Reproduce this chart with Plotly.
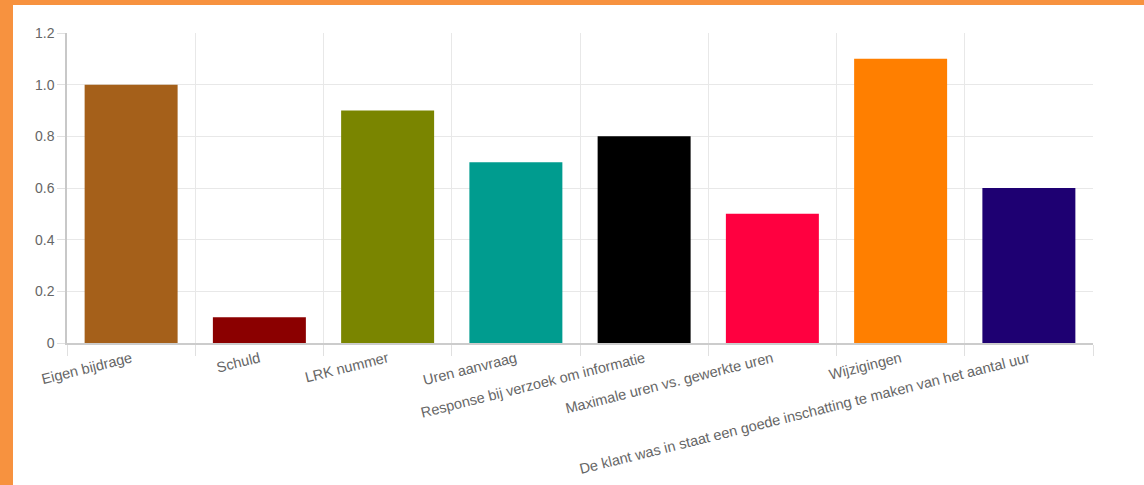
import plotly.graph_objects as go

categories = [
    "Eigen bijdrage",
    "Schuld",
    "LRK nummer",
    "Uren aanvraag",
    "Response bij verzoek om informatie",
    "Maximale uren vs. gewerkte uren",
    "Wijzigingen",
    "De klant was in staat een goede inschatting te maken van het aantal uur",
]
values = [1.0, 0.1, 0.9, 0.7, 0.8, 0.5, 1.1, 0.6]
bar_colors = ["#A5601A", "#8B0000", "#7A8500", "#009C8F", "#000000", "#FF0040", "#FF7F00", "#1E0072"]
y_tickvals = [0, 0.2, 0.4, 0.6, 0.8, 1.0, 1.2]
y_ticktext = ["0", "0.2", "0.4", "0.6", "0.8", "1.0", "1.2"]

W, H = 1144, 485
L, R, T, B = 67, 51, 33, 142
pw, ph = W - L - R, H - T - B

def px_x(p):
    return (p - L) / pw

def px_y(p):
    return (H - B - p) / ph

fig = go.Figure(go.Bar(
    x=categories, y=values, marker=dict(color=bar_colors, line=dict(width=0)),
    hoverinfo="x+y",
))

orange = "#F7923F"
fig.add_shape(type="rect", xref="paper", yref="paper",
              x0=px_x(0), x1=px_x(13), y0=px_y(H), y1=px_y(0),
              fillcolor=orange, line=dict(width=0), layer="above")
fig.add_shape(type="rect", xref="paper", yref="paper",
              x0=px_x(0), x1=px_x(W), y0=px_y(5), y1=px_y(0),
              fillcolor=orange, line=dict(width=0), layer="above")

font = dict(family="Liberation Sans, Arial, Helvetica, sans-serif", size=14, color="#666666")
xfont = dict(family="Liberation Sans, Arial, Helvetica, sans-serif", size=14.5, color="#666666")

fig.update_layout(
    width=W, height=H,
    margin=dict(l=L, r=R, t=T, b=B, autoexpand=False),
    paper_bgcolor="white", plot_bgcolor="white",
    bargap=0.275,
    showlegend=False,
    font=font,
    xaxis=dict(
        type="category", tickson="boundaries", ticks="outside", ticklen=11,
        tickcolor="#E0E0E0", tickwidth=1,
        showgrid=True, gridcolor="#E8E8E8", gridwidth=1,
        showline=True, linecolor="#CCCCCC", linewidth=1.5,
        tickangle=-14, tickfont=xfont, automargin=False,
    ),
    yaxis=dict(
        range=[0, 1.2], tickvals=y_tickvals, ticktext=y_ticktext,
        ticks="outside", ticklen=8, tickcolor="#E0E0E0",
        showgrid=True, gridcolor="#E8E8E8", gridwidth=1,
        showline=True, linecolor="#C8C8C8", linewidth=1.5,
        zeroline=False, tickfont=font, automargin=False,
    ),
)

fig.write_html("out.html", config={"displayModeBar": False},
               post_script="document.body.style.margin='0';document.body.style.overflow='hidden';")
